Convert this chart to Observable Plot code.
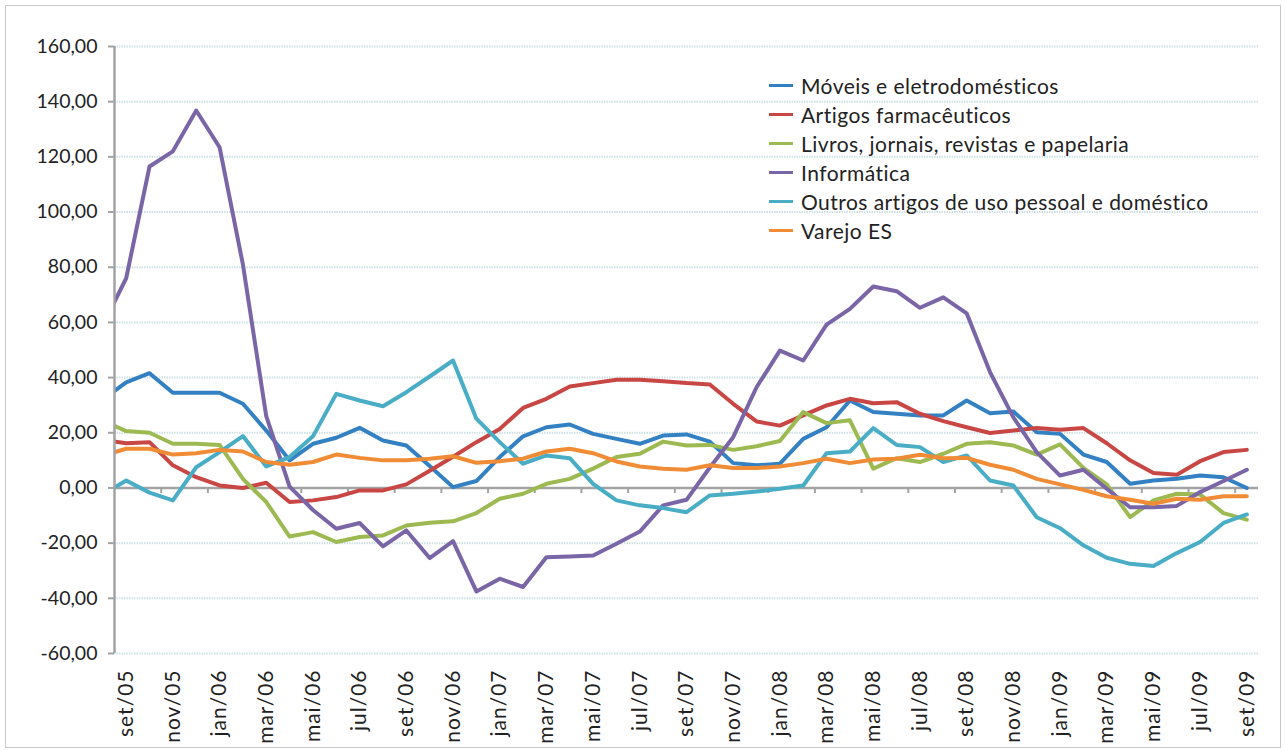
<!DOCTYPE html>
<html>
<head>
<meta charset="utf-8">
<script src="https://cdn.jsdelivr.net/npm/d3@7"></script>
<script src="https://cdn.jsdelivr.net/npm/@observablehq/plot@0.6"></script>
<style>
  html, body { margin: 0; padding: 0; background: #fff; }
  #wrap { position: relative; width: 1285px; height: 751px; overflow: hidden; font-family: Lato, "Open Sans", sans-serif; }
  #frame { position: absolute; left: 5px; top: 5px; width: 1274px; height: 741px; border: 1px solid #c8c8c8; pointer-events: none; }
  #legend { position: absolute; left: 769px; top: 71px; }
  .row { display: flex; align-items: center; height: 29px; }
  .sw { width: 24px; height: 3px; margin-right: 8px; }
  .lab { font-size: 21px; letter-spacing: 0.45px; color: #222; white-space: nowrap; line-height: 29px; }
  .xlab text { letter-spacing: 1px; }
</style>
</head>
<body>
<div id="wrap">
  <div id="chart"></div>
  <div id="legend"></div>
  <div id="frame"></div>
</div>
<script>
// month labels (first entry ago/05 lies just outside the plot and is clipped)
const months = ["ago/05","set/05","out/05","nov/05","dez/05","jan/06","fev/06","mar/06","abr/06","mai/06","jun/06","jul/06","ago/06",
  "set/06","out/06","nov/06","dez/06","jan/07","fev/07","mar/07","abr/07","mai/07","jun/07","jul/07","ago/07",
  "set/07","out/07","nov/07","dez/07","jan/08","fev/08","mar/08","abr/08","mai/08","jun/08","jul/08","ago/08",
  "set/08","out/08","nov/08","dez/08","jan/09","fev/09","mar/09","abr/09","mai/09","jun/09","jul/09","ago/09","set/09"];

const seriesNames = ["Móveis e eletrodomésticos","Artigos farmacêuticos","Livros, jornais, revistas e papelaria","Informática","Outros artigos de uso pessoal e doméstico","Varejo ES"];
const seriesColors = ["#3381c2","#c84745","#9dba52","#7a66a7","#4aadc6","#f08c35"];

const moveis = [32, 38.3, 41.6, 34.5, 34.5, 34.5, 30.5, 20.8, 10, 16, 18.2, 21.8, 17.2, 15.4, 8, 0.3, 2.5, 11.2, 18.7, 22, 23, 19.6, 17.8, 16, 19, 19.4, 16.8, 9, 8.2, 8.8, 17.8, 22, 31.7, 27.5, 26.9, 26.3, 26.3, 31.7, 27.1, 27.7, 20.2, 19.6, 12.1, 9.4, 1.5, 2.7, 3.3, 4.5, 3.9, 0];
const farmaceuticos = [17.4, 16.2, 16.6, 8.2, 3.9, 0.9, 0, 1.9, -5.1, -4.5, -3.3, -0.9, -0.9, 1.3, 6.2, 11.3, 16.6, 21.4, 29, 32.3, 36.8, 38, 39.2, 39.2, 38.7, 38, 37.5, 30.5, 24.1, 22.6, 26.3, 29.9, 32.3, 30.7, 31.1, 26.9, 24.2, 22, 19.9, 20.8, 21.7, 21.1, 21.7, 16.2, 10, 5.4, 4.8, 9.7, 13, 13.8];
const livros = [24.4, 20.6, 20, 16, 16, 15.6, 3.3, -5.1, -17.6, -16, -19.6, -17.8, -17.2, -13.6, -12.6, -12.1, -9.1, -3.9, -2.1, 1.5, 3.3, 7, 11.2, 12.4, 16.8, 15.4, 15.6, 13.8, 15.1, 17, 27.5, 23.5, 24.5, 7, 10.8, 9.4, 12.4, 16, 16.6, 15.4, 12.1, 15.8, 7.3, 1.3, -10.6, -4.5, -2.1, -2.4, -9.1, -11.5];
const informatica = [59, 76, 116.5, 122, 136.8, 123.5, 81, 26, 0.5, -8, -14.8, -12.7, -21.2, -15.4, -25.4, -19.3, -37.5, -32.9, -35.9, -25.1, -24.8, -24.5, -20.2, -15.8, -6.3, -4.3, 7.4, 18.4, 36.5, 49.8, 46.2, 59.2, 64.9, 73, 71.3, 65.3, 69.1, 63.3, 42, 25.6, 13, 4.5, 6.6, -0.3, -7, -7, -6.5, -1.5, 2.5, 6.6];
const outros = [-2.4, 2.7, -1.7, -4.5, 7.5, 13, 18.8, 7.8, 11.2, 18.7, 34.1, 31.7, 29.6, 34.7, 40.4, 46.2, 25.1, 16.6, 8.8, 11.8, 10.8, 1.5, -4.5, -6.3, -7.3, -8.8, -2.7, -2.1, -1.3, -0.3, 0.9, 12.6, 13.2, 21.7, 15.6, 14.8, 9.4, 11.8, 2.7, 0.9, -10.6, -14.6, -20.8, -25.3, -27.5, -28.3, -23.6, -19.6, -12.7, -9.6];
const varejo = [11.7, 14.2, 14.2, 12.1, 12.6, 13.8, 13.2, 9.4, 8.4, 9.4, 12.1, 10.9, 10, 10, 10.6, 11.5, 9.1, 9.7, 10.6, 13.2, 14.2, 12.6, 9.6, 7.8, 7, 6.6, 8.2, 7.2, 7.2, 7.8, 9, 10.6, 9, 10.3, 10.6, 12, 10.8, 10.9, 8.4, 6.6, 3.3, 1.3, -0.7, -3, -4.3, -5.7, -3.9, -4.3, -3, -3];

const yTicks = [-60, -40, -20, 0, 20, 40, 60, 80, 100, 120, 140, 160];

const allSeries = [moveis, farmaceuticos, livros, informatica, outros, varejo];
const data = [];
allSeries.forEach((vals, s) => vals.forEach((v, k) => data.push({serie: seriesNames[s], i: k - 1, v})));

const labelPos = d3.range(0, 49, 2);          // set/05 ... set/09
const tickPos = d3.range(1.5, 48, 2);         // small tick marks on the zero axis
const fmt = d => d.toFixed(2).replace(".", ",");

const chart = Plot.plot({
  width: 1285,
  height: 751,
  marginLeft: 114,
  marginRight: 27,
  marginTop: 46,
  marginBottom: 98,
  style: {fontFamily: "Lato, 'Open Sans', sans-serif", color: "#222", background: "transparent"},
  x: {type: "linear", domain: [-0.5, 48.5], label: null},
  y: {domain: [-60, 160], label: null},
  color: {domain: seriesNames, range: seriesColors},
  marks: [
    Plot.gridY(yTicks, {stroke: "#cfe1e4", strokeOpacity: 1, strokeWidth: 2, strokeDasharray: "1.5,1"}),
    Plot.ruleY([0], {stroke: "#a3a3a3", strokeWidth: 2.5}),
    Plot.ruleX(tickPos, {y1: 0, y2: -2, stroke: "#a3a3a3", strokeWidth: 2}),
    Plot.lineY(data, {x: "i", y: "v", z: "serie", stroke: "serie", strokeWidth: 4, strokeLinejoin: "round", clip: true}),
    Plot.ruleX([-0.5], {stroke: "#a3a3a3", strokeWidth: 2.5}),
    Plot.axisY(yTicks, {label: null, tickSize: 6, tickPadding: 11, tickFormat: fmt, fontSize: 19.5, stroke: "#a3a3a3", strokeWidth: 2, fill: "#222"}),
    Plot.axisX(labelPos, {label: null, anchor: "bottom", className: "xlab", tickSize: 0, tickPadding: 16, tickRotate: -90, tickFormat: i => months[i + 1], fontSize: 21, fill: "#222"})
  ]
});
document.getElementById("chart").appendChild(chart);

const legend = document.getElementById("legend");
seriesNames.forEach((n, s) => {
  const row = document.createElement("div");
  row.className = "row";
  row.innerHTML = `<div class="sw" style="background:${seriesColors[s]}"></div><div class="lab">${n}</div>`;
  legend.appendChild(row);
});
</script>
</body>
</html>
